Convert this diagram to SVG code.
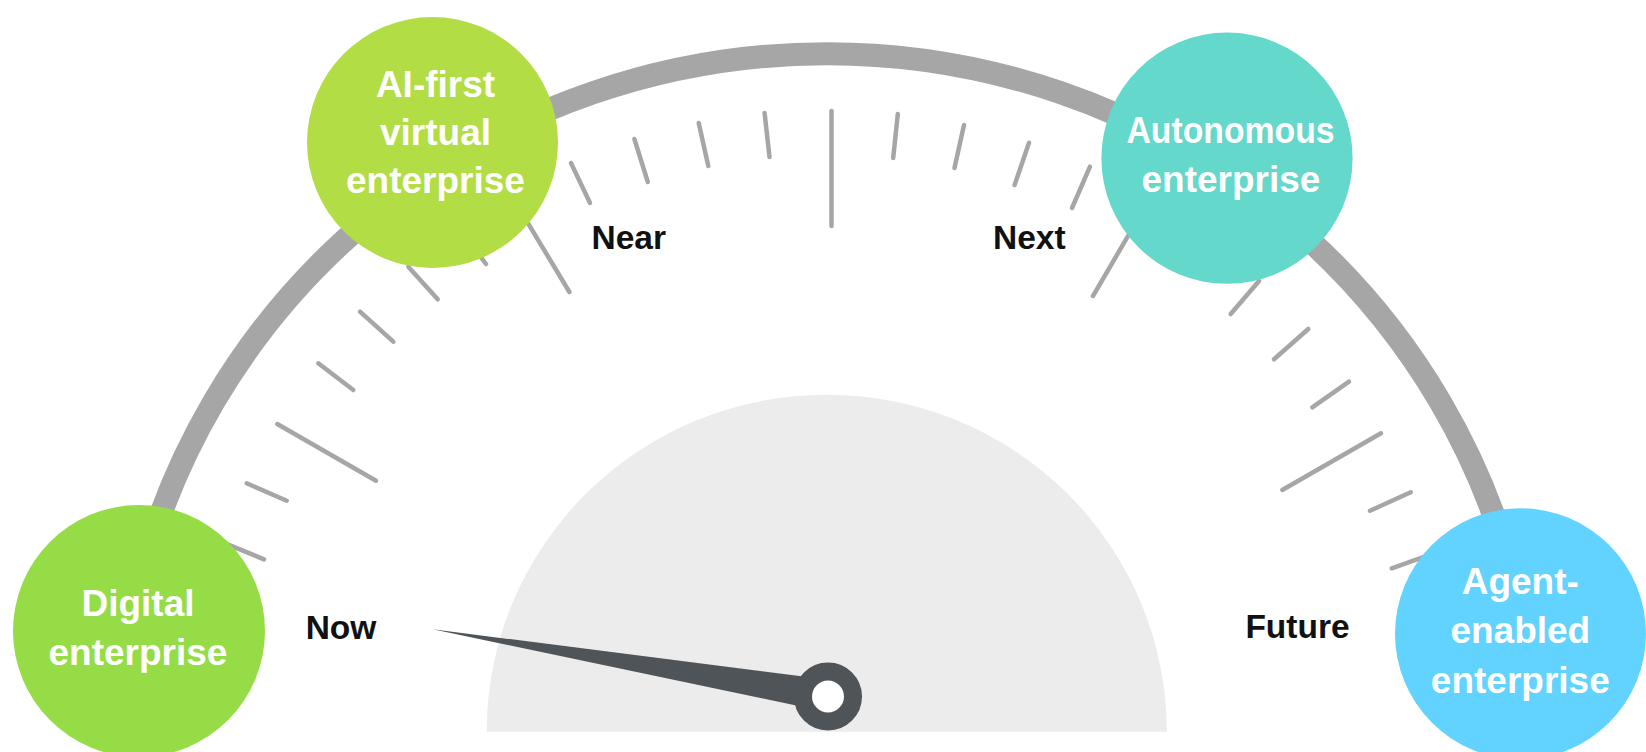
<svg xmlns="http://www.w3.org/2000/svg" width="1646" height="752" viewBox="0 0 1646 752">
  <style>
    .arc { fill: none; stroke: #a6a6a6; stroke-width: 23; }
    .tick { stroke: #a6a6a6; stroke-width: 4.5; stroke-linecap: round; fill: none; }
    .node-text { font-family: "Liberation Sans", Arial, sans-serif; font-weight: bold; font-size: 37px; fill: #ffffff; text-anchor: middle; }
    .label { font-family: "Liberation Sans", Arial, sans-serif; font-weight: bold; font-size: 33.5px; fill: #111111; text-anchor: middle; }
  </style>
  <rect width="1646" height="752" fill="#ffffff"/>

  <g id="gauge">
    <path class="arc" d="M 131.4 620 A 708 696 0 0 1 1522.6 620"/>
    <g id="ticks">
      <line class="tick" x1="831.5" y1="111" x2="831.5" y2="226"/>
      <line class="tick" x1="764.6" y1="113" x2="769.5" y2="157"/>
      <line class="tick" x1="698.7" y1="123" x2="708.3" y2="166"/>
      <line class="tick" x1="634.4" y1="139" x2="647.8" y2="182"/>
      <line class="tick" x1="571" y1="163" x2="590" y2="203"/>
      <line class="tick" x1="512" y1="196.6" x2="569.4" y2="292"/>
      <line class="tick" x1="458" y1="227" x2="486" y2="264"/>
      <line class="tick" x1="408.3" y1="266.7" x2="437.7" y2="299.3"/>
      <line class="tick" x1="360" y1="311.7" x2="393.3" y2="341.7"/>
      <line class="tick" x1="318.3" y1="363.3" x2="353.3" y2="390"/>
      <line class="tick" x1="277.3" y1="424" x2="376" y2="480.7"/>
      <line class="tick" x1="246.7" y1="483.3" x2="286.7" y2="500.7"/>
      <line class="tick" x1="223.3" y1="542.6" x2="264" y2="559.3"/>
      <line class="tick" x1="897.8" y1="114" x2="893.2" y2="158"/>
      <line class="tick" x1="964" y1="125" x2="954.5" y2="168"/>
      <line class="tick" x1="1029" y1="142.7" x2="1014.6" y2="185"/>
      <line class="tick" x1="1090" y1="166.7" x2="1072" y2="208"/>
      <line class="tick" x1="1151" y1="196.6" x2="1093" y2="296"/>
      <line class="tick" x1="1259" y1="281" x2="1230.7" y2="314"/>
      <line class="tick" x1="1308.3" y1="329" x2="1274" y2="359.3"/>
      <line class="tick" x1="1349" y1="381.7" x2="1312.3" y2="407.3"/>
      <line class="tick" x1="1381" y1="433.3" x2="1282.3" y2="490"/>
      <line class="tick" x1="1410.7" y1="492.3" x2="1370" y2="510.7"/>
      <line class="tick" x1="1433.2" y1="553.6" x2="1391.7" y2="568.3"/>
    </g>
    <path id="dial" d="M 486.7 731.7 A 340 337 0 0 1 1166.8 731.7 Z" fill="#ececec"/>
    <g id="needle">
      <polygon points="432.7,629.3 815,677.9 815,709.4" fill="#4f5459"/>
      <circle cx="828" cy="696.5" r="25" fill="#ffffff" stroke="#4f5459" stroke-width="18"/>
    </g>
  </g>

  <g id="labels">
    <text class="label" x="341" y="639">Now</text>
    <text class="label" x="628.7" y="249">Near</text>
    <text class="label" x="1029.3" y="249">Next</text>
    <text class="label" x="1297.5" y="638">Future</text>
  </g>

  <g id="node-digital">
    <circle cx="139" cy="631" r="126" fill="#95dc46"/>
    <text class="node-text" x="138" y="616">Digital</text>
    <text class="node-text" x="138" y="665">enterprise</text>
  </g>

  <g id="node-ai-first">
    <circle cx="432.5" cy="142.5" r="125.5" fill="#b2dd45"/>
    <text class="node-text" x="435.5" y="97">AI-first</text>
    <text class="node-text" x="435.5" y="145">virtual</text>
    <text class="node-text" x="435.5" y="193">enterprise</text>
  </g>

  <g id="node-autonomous">
    <circle cx="1227" cy="158.2" r="125.6" fill="#64d8cb"/>
    <text class="node-text" x="1230.5" y="143.3" textLength="208" lengthAdjust="spacingAndGlyphs">Autonomous</text>
    <text class="node-text" x="1231" y="191.7">enterprise</text>
  </g>

  <g id="node-agent">
    <circle cx="1520.5" cy="633.8" r="125.5" fill="#62d2fe"/>
    <text class="node-text" x="1520.3" y="594">Agent-</text>
    <text class="node-text" x="1520.3" y="643.3">enabled</text>
    <text class="node-text" x="1520.3" y="692.7">enterprise</text>
  </g>
</svg>
